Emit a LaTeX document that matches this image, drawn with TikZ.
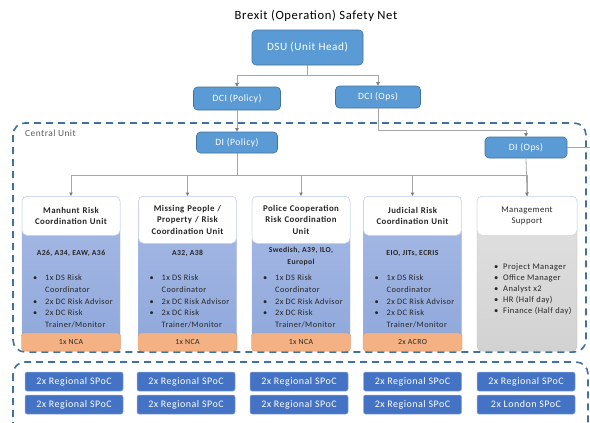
\documentclass[tikz,border=0pt]{standalone}
\usepackage{fontspec}
\setmainfont{Carlito}[LetterSpace=5]
\usetikzlibrary{arrows.meta}
\definecolor{nblue}{HTML}{5B9BD5}
\definecolor{nblueB}{HTML}{41719C}
\definecolor{sblue}{HTML}{4472C4}
\definecolor{bodybot}{HTML}{8EA8DB}
\definecolor{bodytop}{HTML}{A8BAE5}
\definecolor{orng}{HTML}{F4B183}
\definecolor{gtop}{HTML}{E2E2E2}
\definecolor{gbot}{HTML}{D2D2D2}
\definecolor{dashc}{HTML}{41719C}
\definecolor{connc}{HTML}{A6A6A6}
\definecolor{tipc}{HTML}{7F7F7F}
\definecolor{txt}{HTML}{262626}
\newcommand\mylistA{\begin{tabular}{@{}p{12pt}@{}l@{}}\textbullet&1x DS Risk\\&Coordinator\\\textbullet&2x DC Risk Advisor\\\textbullet&2x DC Risk\\&Trainer/Monitor\end{tabular}}
\newcommand\mylistB{\begin{tabular}{@{}p{9pt}@{}l@{}}\textbullet&Project Manager\\\textbullet&Office Manager\\\textbullet&Analyst x2\\\textbullet&HR (Half day)\\\textbullet&Finance (Half day)\end{tabular}}
\begin{document}
\begin{tikzpicture}[x=1pt,y=-1pt,
  topbox/.style={rectangle, rounded corners=4pt, fill=nblue, draw=nblueB, line width=0.6pt, text=white, inner sep=0pt, align=center},
  spoc/.style={rectangle, rounded corners=2pt, fill=sblue, draw=sblue!60!white, line width=0.5pt, text=white, minimum width=98pt, minimum height=19pt, inner sep=0pt, font=\fontsize{10}{11}\selectfont},
  colbody/.style={rectangle, rounded corners=5pt, top color=bodytop, bottom color=bodybot, draw=bodybot!80!white, line width=0.4pt, minimum width=98pt, minimum height=155pt, inner sep=0pt, anchor=north},
  grybody/.style={rectangle, rounded corners=5pt, top color=gtop, bottom color=gbot, draw=gbot!90!black, line width=0.4pt, minimum width=100pt, minimum height=155pt, inner sep=0pt, anchor=north},
  hdr/.style={rectangle, rounded corners=5pt, fill=white, draw=bodytop!60!white, line width=0.5pt, minimum width=98pt, inner sep=0pt, anchor=north, text width=96pt, align=center, text=txt, font=\bfseries\fontsize{8.8}{11.5}\selectfont},
  foot/.style={rectangle, rounded corners=3pt, fill=orng, draw=orng!85!black, line width=0.4pt, minimum width=99pt, minimum height=18pt, inner sep=0pt, text=txt, font=\fontsize{7.8}{9}\selectfont},
  ctitle/.style={align=center, text=txt, inner sep=0pt, font=\bfseries\fontsize{7.7}{12}\selectfont},
  blist/.style={anchor=north west, inner sep=0pt, text=txt, font=\fontsize{8.3}{11.8}\selectfont},
  conn/.style={draw=connc, line width=0.8pt},
  arr/.style={conn, -{Triangle[length=3.5pt,width=3.5pt,color=tipc]}},
  dashbox/.style={draw=dashc, line width=1.6pt, dash pattern=on 7pt off 5pt, rounded corners=12pt}
]
\useasboundingbox (0,0) rectangle (590,423);

% title
\node[font=\fontsize{12.6}{14}\selectfont, text=black] (title) at (316,16) {Brexit (Operation) Safety Net};

% top boxes
\node[topbox, minimum width=111pt, minimum height=35pt, font=\fontsize{11.2}{13}\selectfont] (dsu) at (307.5,47.5) {DSU (Unit Head)};
\node[topbox, minimum width=87pt, minimum height=23pt, font=\fontsize{9.6}{10}\selectfont] (dcip) at (237,98.5) {DCI (Policy)};
\node[topbox, minimum width=85pt, minimum height=22pt, font=\fontsize{9.6}{10}\selectfont] (dcio) at (378,97) {DCI (Ops)};
\node[topbox, minimum width=81pt, minimum height=21pt, font=\fontsize{9.6}{10}\selectfont] (dip) at (237,142.5) {DI (Policy)};
\node[topbox, minimum width=82pt, minimum height=21pt, font=\fontsize{9.6}{10}\selectfont] (dio) at (526,147.5) {DI (Ops)};

% dashed groups
\draw[dashbox] (13,123) rectangle (586,352);
\draw[dashbox] (13,362) rectangle (588,440);
\node[anchor=west, text=black!65, inner sep=0pt, font=\fontsize{9.4}{10}\selectfont] (cu) at (25,133) {Central Unit};

% column 1
\node[colbody] (b1) at (71,196) {};
\node[foot] (f1) at (71,342) {1x NCA};
\node[hdr, minimum height=39pt] (h1) at (71,196) {Manhunt Risk\\Coordination Unit};
\node[ctitle] (t1) at (71,253) {A26, A34, EAW, A36};
\node[blist] (l1) at (33,272) {\mylistA};

% column 2
\node[colbody] (b2) at (187.5,196) {};
\node[foot] (f2) at (187.5,342) {1x NCA};
\node[hdr, minimum height=47pt] (h2) at (187.5,196) {Missing People /\\Property / Risk\\Coordination Unit};
\node[ctitle] (t2) at (187.5,253) {A32, A38};
\node[blist] (l2) at (149.5,272) {\mylistA};

% column 3
\node[colbody] (b3) at (301,196) {};
\node[foot] (f3) at (301,342) {1x NCA};
\node[hdr, minimum height=47pt] (h3) at (301,196) {Police Cooperation\\Risk Coordination\\Unit};
\node[ctitle, anchor=north] (t3) at (301,247) {Swedish, A39, ILO,\\Europol};
\node[blist] (l3) at (263,272) {\mylistA};

% column 4
\node[colbody] (b4) at (412.5,196) {};
\node[foot] (f4) at (412.5,342) {2x ACRO};
\node[hdr, minimum height=39pt] (h4) at (412.5,196) {Judicial Risk\\Coordination Unit};
\node[ctitle] (t4) at (412.5,253) {EIO, JITs, ECRIS};
\node[blist] (l4) at (374.5,272) {\mylistA};

% column 5
\node[grybody] (b5) at (527,196) {};
\node[hdr, minimum width=100pt, minimum height=39pt, font=\fontsize{8.7}{11.5}\selectfont] (h5) at (527,196) {Management\\Support};
\node[blist, font=\fontsize{8.5}{11}\selectfont] (l5) at (494,261.5) {\mylistB};

% connectors
\draw[arr] (dsu.south) -- ++(0,10) -| (dcip.north);
\draw[arr] (dsu.south) -- ++(0,10) -| (dcio.north);
\draw[arr] (dcip.south) -- (dip.north);
\draw[arr] (dcio.south) -- ++(0,22) -| (dio.north);
\draw[arr] (dip.south) -- ++(0,22) -| (h1.north);
\draw[arr] (dip.south) -- ++(0,22) -| (h2.north);
\draw[arr] (dip.south) -- ++(0,22) -| (h3.north);
\draw[arr] (dip.south) -- ++(0,22) -| (h4.north);
\draw[conn] (dip.south) -- ++(0,22) -| (h5.north);
\draw[arr] (dio.south) -- (h5.north);
\coordinate (edge) at (590,147.5);
\draw[conn] (dio.east) -- (edge);

% SPoC boxes
\node[spoc] (s11) at (74,381.5) {2x Regional SPoC};
\node[spoc] (s12) at (74,404.5) {2x Regional SPoC};
\node[spoc] (s21) at (186,381.5) {2x Regional SPoC};
\node[spoc] (s22) at (186,404.5) {2x Regional SPoC};
\node[spoc] (s31) at (299,381.5) {2x Regional SPoC};
\node[spoc] (s32) at (299,404.5) {2x Regional SPoC};
\node[spoc] (s41) at (412.5,381.5) {2x Regional SPoC};
\node[spoc] (s42) at (412.5,404.5) {2x Regional SPoC};
\node[spoc] (s51) at (526,381.5) {2x Regional SPoC};
\node[spoc] (s52) at (526,404.5) {2x London SPoC};
\end{tikzpicture}
\end{document}
